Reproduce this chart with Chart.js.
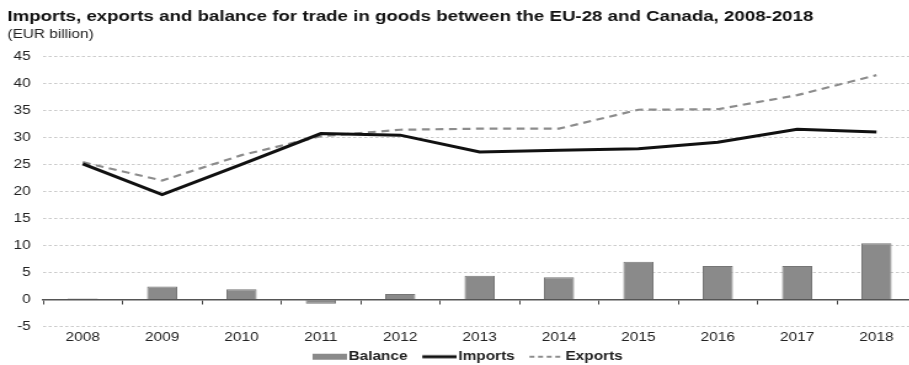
<!DOCTYPE html>
<html>
<head>
<meta charset="utf-8">
<script src="https://cdn.jsdelivr.net/npm/chart.js@4/dist/chart.umd.min.js"></script>
<style>
  html, body { margin: 0; padding: 0; background: #fff; overflow: hidden; }
  /* chart is laid out narrow and widened horizontally */
  #wrap { position: relative; width: 746px; height: 365px; transform: scaleX(1.2306); transform-origin: 0 0; }
</style>
</head>
<body>
<div id="wrap"><canvas id="chart"></canvas></div>
<script>
'use strict';

// EU-28 trade in goods with Canada, EUR billion
const years = ['2008', '2009', '2010', '2011', '2012', '2013', '2014', '2015', '2016', '2017', '2018'];
const balance = [0.2, 2.4, 1.9, -0.8, 1.0, 4.4, 4.1, 7.0, 6.2, 6.2, 10.4];
const imports = [25.1, 19.4, 25.0, 30.7, 30.4, 27.3, 27.6, 27.9, 29.1, 31.5, 31.0];
const exports = [25.4, 22.0, 26.7, 30.2, 31.4, 31.6, 31.6, 35.1, 35.2, 37.8, 41.5];
const yTicks = { min: -5, max: 45, step: 5 };

const FONT = 'Liberation Sans, Arial, sans-serif';

let canvasElem = document.getElementById('chart');

// legend swatches: bar box, solid line, dashed line (mark sits in the right 28px)
function swatch(kind) {
  const c = document.createElement('canvas');
  c.width = 41;
  c.height = 8;
  const g = c.getContext('2d');
  if (kind === 'bar') {
    g.fillStyle = '#8a8a8a';
    g.fillRect(13, 1, 28, 6);
  } else if (kind === 'solid') {
    g.strokeStyle = '#111';
    g.lineWidth = 3;
    g.beginPath(); g.moveTo(13, 4); g.lineTo(41, 4); g.stroke();
  } else {
    g.strokeStyle = '#8c8c8c';
    g.lineWidth = 2;
    g.setLineDash([4, 3]);
    g.beginPath(); g.moveTo(13, 4); g.lineTo(41, 4); g.stroke();
  }
  return c;
}

const legendShapes = [swatch('bar'), swatch('solid'), swatch('dash')];

function renderChart() {
  const data = {
    labels: years,
    datasets: [
      {
        type: 'bar',
        label: 'Balance',
        data: balance,
        backgroundColor: '#8a8a8a',
        borderColor: '#767676',
        borderWidth: 1,
        barPercentage: 0.38,
        categoryPercentage: 1
      },
      {
        type: 'line',
        label: 'Imports',
        data: imports,
        borderColor: '#111111',
        backgroundColor: '#111111',
        borderWidth: 3,
        pointRadius: 0,
        tension: 0
      },
      {
        type: 'line',
        label: 'Exports',
        data: exports,
        borderColor: '#8c8c8c',
        backgroundColor: '#8c8c8c',
        borderWidth: 2.2,
        borderDash: [6.5, 4.5],
        pointRadius: 0,
        tension: 0
      }
    ]
  };

  const config = {
    data: data,
    options: {
      responsive: true,
      maintainAspectRatio: false,
      animation: false,
      layout: { padding: { left: 6, right: 0, top: 0, bottom: -8 } },
      scales: {
        x: {
          ticks: { color: '#222', font: { family: FONT, size: 12.5 }, padding: 4 },
          grid: { display: false, drawTicks: false },
          border: { display: false },
          afterFit: (scale) => { scale.height = 20; }
        },
        // axis line through zero, small ticks between the years
        x0: {
          type: 'category',
          position: { y: 0 },
          offset: true,
          ticks: { display: false },
          grid: { offset: true, drawOnChartArea: false, drawTicks: true, tickLength: 4, tickColor: '#444', tickWidth: 1 },
          border: { display: true, color: '#555', width: 1.5 }
        },
        y: {
          min: yTicks.min,
          max: yTicks.max,
          ticks: { stepSize: yTicks.step, color: '#222', font: { family: FONT, size: 12.5 }, padding: 10 },
          grid: { color: '#cccccc', lineWidth: 1, drawTicks: false },
          border: { display: false, dash: [2.5, 2] },
          afterFit: (scale) => { scale.width = 29; }
        }
      },
      plugins: {
        title: {
          display: true,
          align: 'start',
          text: 'Imports, exports and balance for trade in goods between the EU-28 and Canada, 2008-2018',
          color: '#111',
          font: { family: FONT, size: 15.2, weight: 'bold' },
          padding: { top: 8, bottom: 0.5 }
        },
        subtitle: {
          display: true,
          align: 'start',
          text: '(EUR billion)',
          color: '#222',
          font: { family: FONT, size: 12.5 },
          padding: { top: 0, bottom: 14.5 }
        },
        legend: {
          position: 'bottom',
          labels: {
            usePointStyle: true,
            pointStyleWidth: 31,
            boxHeight: 8,
            padding: 4,
            color: '#222',
            font: { family: FONT, size: 12.5, weight: 'bold' },
            generateLabels(chart) {
              const items = Chart.defaults.plugins.legend.labels.generateLabels(chart);
              items.forEach((item, i) => { item.pointStyle = legendShapes[i]; });
              return items;
            }
          }
        },
        tooltip: { enabled: false }
      }
    }
  };

  const myChart = new Chart(canvasElem, config);
}

renderChart();
</script>
</body>
</html>
